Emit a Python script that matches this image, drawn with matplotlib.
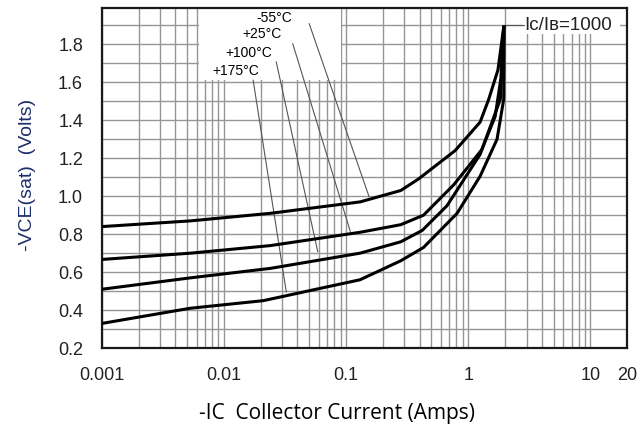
import matplotlib
matplotlib.use("Agg")
import matplotlib.pyplot as plt
from matplotlib.patches import Rectangle
from matplotlib.ticker import FixedLocator, FixedFormatter, LogLocator, MultipleLocator, NullFormatter

# curves (collector current in A, -VCE(sat) in V)
ic_m55 = [0.001, 0.0053, 0.024, 0.13, 0.28, 0.39, 0.78, 1.25, 1.47, 1.75, 1.95]
vce_m55 = [0.84, 0.87, 0.91, 0.97, 1.03, 1.09, 1.24, 1.39, 1.51, 1.665, 1.89]
ic_25 = [0.001, 0.0053, 0.024, 0.13, 0.28, 0.43, 0.76, 1.29, 1.66, 1.85, 1.95]
vce_25 = [0.667, 0.70, 0.74, 0.81, 0.85, 0.90, 1.06, 1.245, 1.42, 1.62, 1.89]
ic_100 = [0.001, 0.0053, 0.024, 0.13, 0.28, 0.42, 0.67, 1.25, 1.83, 1.95]
vce_100 = [0.51, 0.57, 0.62, 0.70, 0.76, 0.82, 0.95, 1.22, 1.51, 1.89]
ic_175 = [0.001, 0.0053, 0.021, 0.13, 0.28, 0.43, 0.81, 1.25, 1.72, 1.95, 1.97]
vce_175 = [0.33, 0.41, 0.45, 0.56, 0.66, 0.73, 0.91, 1.105, 1.30, 1.51, 1.89]

temp_labels = ["-55°C", "+25°C", "+100°C", "+175°C"]
label_pos = [(0.0186, 1.937), (0.0141, 1.854), (0.0102, 1.754), (0.0081, 1.659)]
leader_start = [(0.049, 1.923), (0.036, 1.818), (0.0265, 1.722), (0.0172, 1.626)]
leader_end = [(0.157, 0.983), (0.11, 0.80), (0.0593, 0.693), (0.0327, 0.48)]

x_ticks = [0.001, 0.01, 0.1, 1, 10, 20]
x_ticklabels = ["0.001", "0.01", "0.1", "1", "10", "20"]
y_ticks = [0.2, 0.4, 0.6, 0.8, 1.0, 1.2, 1.4, 1.6, 1.8]

fig = plt.figure(figsize=(6.4, 4.33), dpi=100)
ax = fig.add_axes([0.159, 0.196, 0.821, 0.785])

ax.set_xscale("log")
ax.set_xlim(0.001, 20)
ax.set_ylim(0.2, 1.99)

# grid
ax.xaxis.set_major_locator(FixedLocator(x_ticks))
ax.xaxis.set_major_formatter(FixedFormatter(x_ticklabels))
ax.xaxis.set_minor_locator(LogLocator(base=10, subs=range(2, 10), numticks=20))
ax.xaxis.set_minor_formatter(NullFormatter())
ax.set_yticks(y_ticks)
ax.set_yticklabels([f"{v:.1f}" for v in y_ticks])
ax.yaxis.set_minor_locator(MultipleLocator(0.1))
ax.grid(True, which="both", color="#969696", lw=1.0)
ax.set_axisbelow(True)

# white backgrounds behind the labels
ax.add_patch(Rectangle((0.0062, 1.61), 0.09 - 0.0062, 0.5, fc="white", ec="none", zorder=1.5))
ax.add_patch(Rectangle((2.8, 1.855), 17.6 - 2.8, 0.3, fc="white", ec="none", zorder=1.5))

for ic, v in [(ic_m55, vce_m55), (ic_25, vce_25), (ic_100, vce_100), (ic_175, vce_175)]:
    ax.plot(ic, v, color="black", lw=2.2, solid_joinstyle="round", zorder=3)

for lab, pos, st, en in zip(temp_labels, label_pos, leader_start, leader_end):
    ax.text(pos[0], pos[1], lab, fontsize=10, family="Liberation Sans", va="center", ha="left", zorder=4)
    ax.annotate("", xy=en, xytext=st, arrowprops=dict(arrowstyle="-", color="#555555", lw=0.8), zorder=2.5)

ax.plot([1.95, 2.85], [1.9, 1.9], color="#555555", lw=0.8, zorder=2.5)
ax.text(2.9, 1.9, "Iᴄ/Iʙ=1000", fontsize=13.5, family=["Liberation Sans", "DejaVu Sans"],
        va="center", ha="left", color="#222222", zorder=4)

for s in ax.spines.values():
    s.set_color("#1a1a1a")
    s.set_linewidth(1.6)

ax.tick_params(which="both", length=0, pad=13.5, labelsize=13, labelcolor="#222222")
for t in ax.get_xticklabels() + ax.get_yticklabels():
    t.set_family("Liberation Sans")

ax.set_xlabel("-IC  Collector Current (Amps)", fontsize=15, family="Open Sans", color="black")
ax.xaxis.set_label_coords(0.448, -0.16)
ax.set_ylabel("-VCE(sat)  (Volts)", fontsize=14, family="Liberation Sans", color="#1c2e6b")
ax.yaxis.set_label_coords(-0.125, 0.51)

plt.savefig("out.png", dpi=100)
